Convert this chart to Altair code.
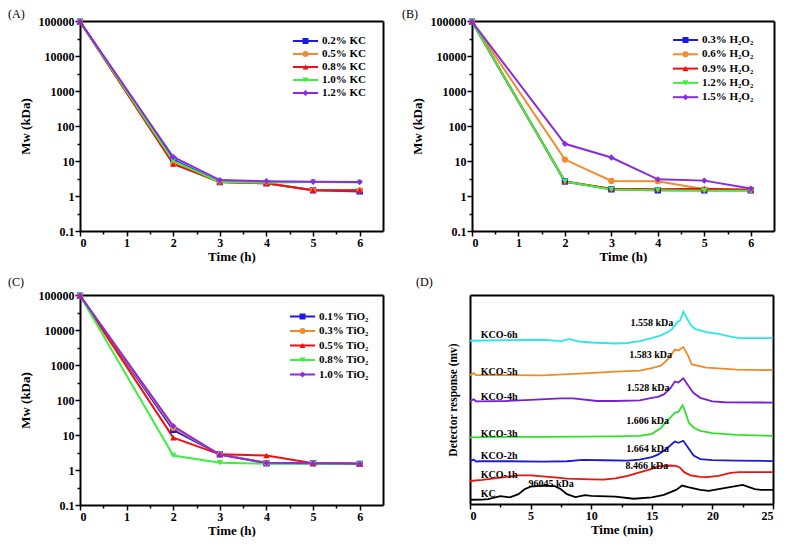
import altair as alt
import pandas as pd

FONT = "Liberation Serif"

# ---------------- data: panels A-C (Mw vs time) ----------------
times = [0, 2, 3, 4, 5, 6]

A_names = ["0.2% KC", "0.5% KC", "0.8% KC", "1.0% KC", "1.2% KC"]
A_02 = [96045, 11, 2.5, 2.3, 1.45, 1.35]
A_05 = [96045, 8.5, 2.5, 2.3, 1.45, 1.45]
A_08 = [96045, 8.2, 2.5, 2.3, 1.45, 1.45]
A_10 = [96045, 10, 2.5, 2.4, 2.5, 2.45]
A_12 = [96045, 13, 2.85, 2.65, 2.55, 2.5]

B_names = ["0.3% H₂O₂", "0.6% H₂O₂", "0.9% H₂O₂", "1.2% H₂O₂", "1.5% H₂O₂"]
B_03 = [96045, 2.6, 1.55, 1.45, 1.45, 1.45]
B_06 = [96045, 11, 2.7, 2.65, 1.55, 1.5]
B_09 = [96045, 2.6, 1.6, 1.55, 1.6, 1.5]
B_12 = [96045, 2.6, 1.53, 1.45, 1.42, 1.42]
B_15 = [96045, 31, 12.6, 3.0, 2.75, 1.63]

C_names = ["0.1% TiO₂", "0.3% TiO₂", "0.5% TiO₂", "0.8% TiO₂", "1.0% TiO₂"]
C_01 = [96045, 14, 2.8, 1.55, 1.55, 1.5]
C_03 = [96045, 16, 2.8, 1.6, 1.55, 1.5]
C_05 = [96045, 8.4, 2.8, 2.6, 1.55, 1.5]
C_08 = [96045, 2.6, 1.6, 1.5, 1.5, 1.45]
C_10 = [96045, 18, 2.7, 1.6, 1.55, 1.5]

series_colors = ["#1a1ae6", "#f28a2e", "#ee1111", "#3ef03e", "#8a2be2"]
series_shapes = ["square", "circle", "triangle-up", "triangle-down", "diamond"]

# ---------------- data: panel D (chromatograms) ----------------
D_names = ["KC", "KCO-1h", "KCO-2h", "KCO-3h", "KCO-4h", "KCO-5h", "KCO-6h"]
D_colors = ["#000000", "#e8140f", "#1a1acf", "#2fe02f", "#7a1fd6", "#f08a2a", "#2ee6e6"]

KC_t = [0, 1, 1.5, 2.5, 3.3, 4, 4.5, 5, 6, 7, 7.5, 8, 8.7, 9.5, 10, 12, 13.5, 15, 16, 17, 17.5, 18, 19, 19.7, 20.5, 22.5, 23.5, 24, 25]
KC_v = [4.3, 4.5, 5, 8, 6.7, 10, 15, 17.5, 18.7, 18, 15, 10, 7, 9, 8.3, 7.5, 5.3, 6.7, 9.3, 14.3, 18.7, 17, 14.3, 13.3, 15, 19.3, 15, 14.3, 14.3]
K1_t = [0, 1, 2, 3, 4, 5, 6, 7, 8, 10, 11, 12, 13, 14, 15, 15.5, 16.5, 17, 17.3, 17.7, 18.2, 19, 19.5, 20.5, 21.5, 22.2, 25]
K1_v = [23.3, 24.5, 26, 27.5, 29, 29, 28, 27, 25.6, 25, 24.6, 26, 28.5, 32, 35.5, 38, 39, 38.5, 37, 32, 29, 27.5, 27.3, 28.5, 31.5, 32.3, 32.3]
K2_t = [0, 0.3, 0.5, 0.8, 3, 6, 8, 9.3, 11, 13, 14, 15, 15.5, 16, 16.5, 16.9, 17.2, 17.6, 18, 18.45, 19, 20, 22, 25]
K2_v = [43, 45, 43, 43.3, 43.3, 43, 43.3, 44.6, 44.3, 44, 45, 47.5, 50, 54, 59, 63.3, 62, 64, 57, 49, 45.5, 44.5, 44, 43.5]
K3_t = [0, 3, 6, 9, 12, 14, 15, 15.75, 16.4, 16.9, 17.2, 17.55, 17.8, 18.05, 18.5, 19, 20, 22, 25]
K3_v = [67.5, 68, 68, 68.3, 68.5, 69, 71, 77, 86, 92.3, 93.5, 100, 92, 82.3, 77, 74, 71.7, 70, 69]
K4_t = [0, 0.3, 0.5, 0.8, 3, 5, 7.5, 8.5, 10.5, 12, 14, 15, 15.5, 16, 16.55, 16.9, 17.2, 17.6, 18, 18.45, 19, 20, 21, 25]
K4_v = [104, 106, 104, 104, 104.3, 105.5, 107, 107, 104.3, 104.3, 105, 107.5, 108.5, 111, 117.5, 124, 123, 127.3, 120, 112.3, 107.5, 104, 103, 102.7]
K5_t = [0, 0.3, 0.5, 0.8, 3, 6, 9, 12, 14, 15, 15.75, 16.4, 16.9, 17.2, 17.6, 18, 18.3, 19.5, 20.5, 22, 25]
K5_v = [130.3, 132.5, 130.5, 130.5, 130.5, 130.3, 132, 134, 135, 137.5, 140, 147.3, 156.3, 155.5, 159, 150, 141.3, 138, 137.3, 136, 135.5]
K6_t = [0, 3, 6, 7.5, 8.2, 9, 10, 12, 13, 14, 15, 15.75, 16.3, 16.7, 17.1, 17.35, 17.6, 17.9, 18.2, 18.55, 19.5, 20.5, 21.5, 22.2, 25]
K6_v = [165.3, 166, 166.3, 165, 167, 164.5, 163.5, 162.5, 163, 165, 168, 170.7, 174, 177.3, 184, 186, 194.6, 188, 181.3, 177.3, 174, 172.3, 169.5, 168, 168]

trace_labels_t = [0.89] * 7
trace_labels_v = [10.6, 29, 48.5, 71.3, 108, 134, 171.3]

mw_texts = ["96045 kDa", "8.466 kDa", "1.664 kDa", "1.606 kDa", "1.528 kDa", "1.583 kDa", "1.558 kDa"]
mw_text_t = [6.7, 14.6, 14.65, 14.65, 14.7, 14.9, 15.0]
mw_text_v = [20.6, 38.3, 55.6, 84, 117.3, 150.6, 183.5]

H = 210
CLEAR = "rgba(0,0,0,0)"
TOP_AX = alt.Axis(orient="top", labels=False, ticks=False, title=None, domainWidth=2, domainColor="black")
RIGHT_AX = alt.Axis(orient="right", labels=False, ticks=False, title=None, domainWidth=2, domainColor="black")


def x_time_axis():
    # the grid line at 6.5 (the right edge) draws the right frame of the plot
    return alt.Axis(
        title="Time (h)",
        values=[0, 0.5, 1, 1.5, 2, 2.5, 3, 3.5, 4, 4.5, 5, 5.5, 6, 6.5],
        format="~g",
        labelExpr="datum.value % 1 === 0 ? datum.label : ''",
        tickSize={"condition": {"test": "datum.value % 1 === 0", "value": 5}, "value": 3},
        tickColor={"condition": {"test": "datum.value > 6.4", "value": CLEAR}, "value": "black"},
        grid=True, gridWidth=2,
        gridColor={"condition": {"test": "datum.value > 6.4", "value": "black"}, "value": CLEAR},
        titlePadding=2,
    )


def y_mw_axis():
    major = "abs(log(datum.value)/LN10 - round(log(datum.value)/LN10)) < 0.001"
    # the grid line at 100000 (the top edge) draws the top frame of the plot
    return alt.Axis(
        title="Mw (kDa)",
        values=[0.1, 0.3, 1, 3, 10, 30, 100, 300, 1000, 3000, 10000, 30000, 100000],
        format="~g",
        labelExpr=major + " ? datum.label : ''",
        tickSize={"condition": {"test": major, "value": 5}, "value": 3},
        grid=True, gridWidth=2,
        gridColor={"condition": {"test": "datum.value > 99999", "value": "black"}, "value": CLEAR},
        titlePadding=6,
    )


def mw_panel(names, series, label, width, lx, ly, rowpad, title_dx, title_off):
    rows = []
    for n, vals in zip(names, series):
        for t, v in zip(times, vals):
            rows.append({"t": t, "mw": v, "s": n})
    df = pd.DataFrame(rows)
    xs = alt.Scale(domain=[0, 6.5], nice=False, zero=False)
    ys = alt.Scale(type="log", domain=[0.1, 100000], nice=False)
    cscale = alt.Scale(domain=names, range=series_colors)
    sscale = alt.Scale(domain=names, range=series_shapes)
    common = dict(orient="none", legendX=lx, legendY=ly, title=None, symbolSize=36,
                  labelFont=FONT, labelFontSize=11, labelFontWeight="bold", labelColor="black",
                  labelOffset=11, rowPadding=rowpad, padding=0)
    line_leg = alt.Legend(symbolType="M-4.2,0H4.2", symbolStrokeWidth=2, **common)
    pt_leg = alt.Legend(labelOpacity=0, symbolStrokeWidth=0, **common)
    lines = alt.Chart(df).mark_line(strokeWidth=2).encode(
        x=alt.X("t:Q", scale=xs, axis=None),
        y=alt.Y("mw:Q", scale=ys, axis=None),
        color=alt.Color("s:N", scale=cscale, legend=line_leg))
    points = alt.Chart(df).mark_point(filled=True, size=40, opacity=1).encode(
        x=alt.X("t:Q", scale=xs, axis=None),
        y=alt.Y("mw:Q", scale=ys, axis=None),
        color=alt.Color("s:N", scale=cscale, legend=pt_leg),
        shape=alt.Shape("s:N", scale=sscale, legend=pt_leg))
    inner = alt.layer(lines, points).resolve_legend(color="independent", shape="independent")
    axes_layer = alt.Chart(df).mark_point(opacity=0).encode(
        x=alt.X("t:Q", scale=xs, axis=x_time_axis()),
        y=alt.Y("mw:Q", scale=ys, axis=y_mw_axis()))
    return alt.layer(inner, axes_layer).resolve_axis(x="independent", y="independent").properties(
        width=width, height=H,
        title=alt.Title(label, anchor="start", frame="group", dx=title_dx, font=FONT,
                        fontSize=12, fontWeight="normal", color="black", offset=title_off))


panelA = mw_panel(A_names, [A_02, A_05, A_08, A_10, A_12], "(A)", 303, 220, 14.5, 1, -72, -6)
panelB = mw_panel(B_names, [B_03, B_06, B_09, B_12, B_15], "(B)", 302, 208, 13.5, 2.3, -70, -6)
panelC = mw_panel(C_names, [C_01, C_03, C_05, C_08, C_10], "(C)", 303, 217, 16, 2.5, -72, 0)

# panel D
drows = []
for n, ts, vs in zip(D_names, [KC_t, K1_t, K2_t, K3_t, K4_t, K5_t, K6_t],
                     [KC_v, K1_v, K2_v, K3_v, K4_v, K5_v, K6_v]):
    for t, v in zip(ts, vs):
        drows.append({"t": t, "r": v, "s": n})
ddf = pd.DataFrame(drows)
lab_df = pd.DataFrame({"t": trace_labels_t, "r": trace_labels_v, "txt": D_names})
mw_df = pd.DataFrame({"t": mw_text_t, "r": mw_text_v, "txt": mw_texts})

DW, DH = 303, 209
dxs = alt.Scale(domain=[0, 25], nice=False, zero=False)
dys = alt.Scale(domain=[0, 211.6], nice=False, zero=False)
d_lines = alt.Chart(ddf).mark_line(strokeWidth=1.8).encode(
    x=alt.X("t:Q", scale=dxs,
            axis=alt.Axis(title="Time (min)", values=[0, 2.5, 5, 7.5, 10, 12.5, 15, 17.5, 20, 22.5, 25],
                          format="~g",
                          labelExpr="datum.value % 5 === 0 ? datum.label : ''",
                          tickSize={"condition": {"test": "datum.value % 5 === 0", "value": 5}, "value": 3},
                          titlePadding=2)),
    y=alt.Y("r:Q", scale=dys,
            axis=alt.Axis(title="Detector response (mv)", labels=False, ticks=False, titlePadding=12,
                          titleFontSize=11.5)),
    color=alt.Color("s:N", scale=alt.Scale(domain=D_names, range=D_colors), legend=None),
    order=alt.Order("t:Q"))
d_lab = alt.Chart(lab_df).mark_text(align="left", baseline="middle", font=FONT, fontSize=10,
                                    fontWeight="bold", color="black").encode(
    x=alt.X("t:Q", scale=dxs, axis=None), y=alt.Y("r:Q", scale=dys, axis=None), text="txt:N")
d_mw = alt.Chart(mw_df).mark_text(align="center", baseline="middle", font=FONT, fontSize=10,
                                  fontWeight="bold", color="black").encode(
    x=alt.X("t:Q", scale=dxs, axis=None), y=alt.Y("r:Q", scale=dys, axis=None), text="txt:N")
d_frame = alt.Chart(ddf).mark_point(opacity=0).encode(
    x=alt.X("t:Q", scale=dxs, axis=TOP_AX), y=alt.Y("r:Q", scale=dys, axis=RIGHT_AX))
panelD = alt.layer(d_lines, d_lab, d_mw, d_frame).resolve_axis(x="independent", y="independent").properties(
    width=DW, height=DH,
    title=alt.Title("(D)", anchor="start", frame="group", dx=-54, font=FONT, fontSize=12,
                    fontWeight="normal", color="black", offset=6))

row1 = alt.hconcat(panelA, panelB, spacing=18).resolve_scale(color="independent", shape="independent")
row2 = alt.hconcat(panelC, panelD, spacing=32).resolve_scale(color="independent", shape="independent")

chart = alt.vconcat(row1, row2, spacing=13).resolve_scale(
    color="independent", shape="independent"
).properties(padding=0, background="white").configure_view(
    stroke=None
).configure_axis(
    domainColor="black", domainWidth=2, tickColor="black", tickWidth=1.5, grid=False,
    labelFont=FONT, labelFontSize=12, labelFontWeight="bold", labelColor="black", labelPadding=1,
    titleFont=FONT, titleFontSize=13, titleFontWeight="bold", titleColor="black"
)

chart.save("out.html", embed_options={"renderer": "svg", "actions": False})
